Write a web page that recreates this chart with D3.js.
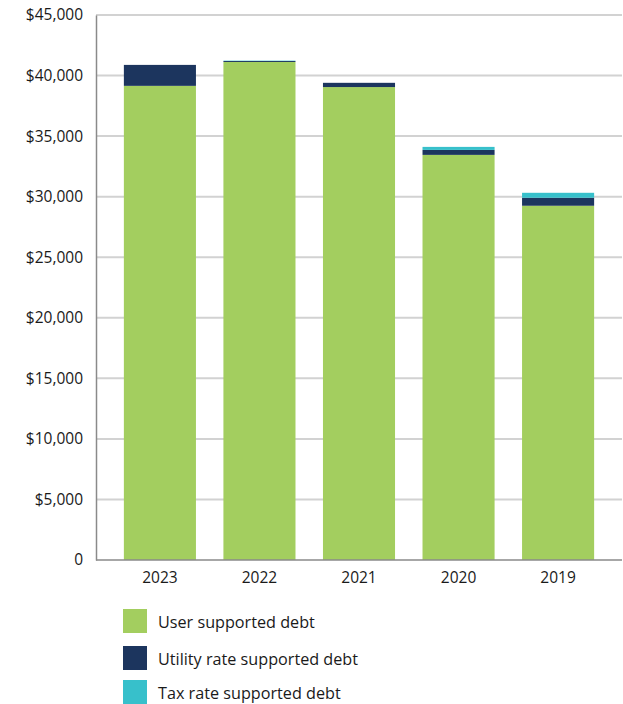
<!DOCTYPE html>
<html>
<head>
<meta charset="utf-8">
<script src="https://cdn.jsdelivr.net/npm/d3@7"></script>
<style>
  body { margin: 0; background: #fff; }
  text { font-family: "Open Sans", "Noto Sans", sans-serif; fill: #1a1a1a; }
</style>
</head>
<body>
<div id="chart"></div>
<script>
// data
var years = ["2023", "2022", "2021", "2020", "2019"];
var userDebt = [39150, 41120, 39050, 33450, 29250];
var utilityDebt = [1730, 80, 350, 410, 660];
var taxDebt = [0, 30, 0, 250, 410];
var seriesNames = ["User supported debt", "Utility rate supported debt", "Tax rate supported debt"];
var seriesColors = ["#a3ce5f", "#1c355e", "#37c0cb"];
var yTicks = [0, 5000, 10000, 15000, 20000, 25000, 30000, 35000, 40000, 45000];

var width = 623, height = 704;
var margin = { top: 15, right: 1, bottom: 144, left: 96 };

var svg = d3.select("#chart").append("svg")
    .attr("width", width)
    .attr("height", height);

var x = d3.scaleBand()
    .domain(years)
    .range([margin.left, width - margin.right])
    .paddingInner(0.276)
    .paddingOuter(0.28);

var y = d3.scaleLinear()
    .domain([0, 45000])
    .range([height - margin.bottom, margin.top]);

// grid lines
svg.append("g")
    .selectAll("line")
    .data(yTicks.filter(function(d) { return d > 0; }))
    .enter().append("line")
    .attr("x1", margin.left)
    .attr("x2", width - margin.right)
    .attr("y1", function(d) { return y(d); })
    .attr("y2", function(d) { return y(d); })
    .attr("stroke", "#d2d2d2")
    .attr("stroke-width", 2);

// stack the series
var table = years.map(function(yr, i) {
    return { year: yr, user: userDebt[i], utility: utilityDebt[i], tax: taxDebt[i] };
});
var keys = ["user", "utility", "tax"];
var stacked = d3.stack().keys(keys)(table);

svg.append("g")
    .selectAll("g")
    .data(stacked)
    .enter().append("g")
    .attr("fill", function(d, i) { return seriesColors[i]; })
    .selectAll("rect")
    .data(function(d) { return d; })
    .enter().append("rect")
    .attr("x", function(d) { return x(d.data.year); })
    .attr("width", x.bandwidth())
    .attr("y", function(d) { return y(d[1]); })
    .attr("height", function(d) { return y(d[0]) - y(d[1]); });

// y axis
var yAxis = d3.axisLeft(y)
    .tickValues(yTicks)
    .tickSize(0)
    .tickPadding(13)
    .tickFormat(function(d) { return d === 0 ? "0" : "$" + d3.format(",")(d); });

var gy = svg.append("g")
    .attr("transform", "translate(" + margin.left + ",0)")
    .call(yAxis);
gy.select(".domain").attr("stroke", "#8a8a8a").attr("stroke-width", 1.5);
gy.selectAll("text").style("font-size", "15.5px").attr("fill", "#1a1a1a");

// x axis
var xAxis = d3.axisBottom(x).tickSize(0).tickPadding(12);
var gx = svg.append("g")
    .attr("transform", "translate(0," + y(0) + ")")
    .call(xAxis);
gx.select(".domain").attr("stroke", "#8a8a8a").attr("stroke-width", 1.5)
    .attr("d", "M" + margin.left + ",0H" + (width - margin.right));
gx.selectAll("text").style("font-size", "15.5px").attr("fill", "#1a1a1a");

// legend
var legend = svg.append("g")
    .attr("transform", "translate(123,609)");

var items = legend.selectAll("g")
    .data(seriesNames)
    .enter().append("g")
    .attr("transform", function(d, i) { return "translate(0," + [0, 37, 71][i] + ")"; });

items.append("rect")
    .attr("width", 24)
    .attr("height", 24)
    .attr("fill", function(d, i) { return seriesColors[i]; });

items.append("text")
    .attr("x", 35)
    .attr("y", 13)
    .attr("dy", "0.35em")
    .style("font-size", "16.2px")
    .text(function(d) { return d; });
</script>
</body>
</html>
